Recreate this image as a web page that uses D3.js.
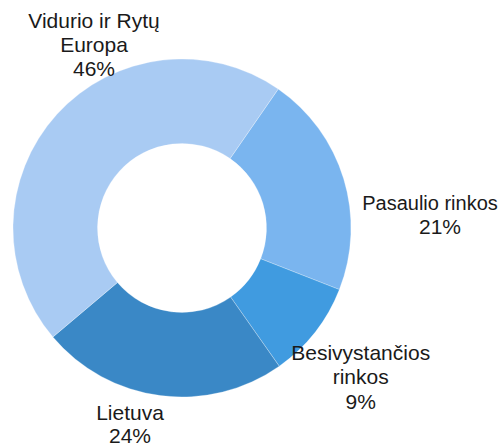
<!DOCTYPE html>
<html>
<head>
<meta charset="utf-8">
<script src="https://cdn.jsdelivr.net/npm/d3@7"></script>
<style>
  html, body { margin: 0; padding: 0; background: #fff; }
  svg { display: block; }
  text { font-family: "Liberation Sans", Arial, sans-serif; fill: #1a1a1a; }
</style>
</head>
<body>
<svg id="chart" width="504" height="447"></svg>
<script>
// Data (clockwise order, starting from the upper-right boundary)
const categories = ["Pasaulio rinkos", "Besivystančios rinkos", "Lietuva", "Vidurio ir Rytų Europa"];
const values = [21.3, 9.3, 23.6, 45.8];
const percentLabels = ["21%", "9%", "24%", "46%"];
const labelLines = [["Pasaulio rinkos"], ["Besivystančios", "rinkos"], ["Lietuva"], ["Vidurio ir Rytų", "Europa"]];
const colors = ["#7ab5ef", "#409be0", "#3a88c6", "#a9cbf3"];

const svg = d3.select("#chart");
const cx = 182, cy = 228, outerR = 169, innerR = 84.5;
const startDeg = 34.7;

const pie = d3.pie()
  .sort(null)
  .value(d => d)
  .startAngle(startDeg * Math.PI / 180)
  .endAngle((startDeg + 360) * Math.PI / 180);

const arc = d3.arc().innerRadius(innerR).outerRadius(outerR);
const g = svg.append("g").attr("transform", `translate(${cx},${cy})`);

const arcs = pie(values);
g.selectAll("path.slice")
  .data(arcs)
  .join("path")
  .attr("class", "slice")
  .attr("d", arc)
  .attr("fill", (d, i) => colors[i])
  .attr("stroke", "#ffffff")
  .attr("stroke-opacity", 0.35)
  .attr("stroke-width", 0.8);

// Label anchor positions: per-line centre x, first baseline y
const labelX = [[430, 440], [360.7, 360.7, 360.7], [130, 130], [94, 94, 94]];
const labelY = [209.5, 360, 419.5, 27.5];
const lineH = 24.4;

const labels = svg.selectAll("text.lbl")
  .data(arcs)
  .join("text")
  .attr("class", "lbl")
  .attr("text-anchor", "middle")
  .attr("font-size", "21px");

labels.each(function(d, i) {
  const t = d3.select(this);
  const lines = labelLines[i].concat([percentLabels[i]]);
  lines.forEach((ln, k) => {
    t.append("tspan")
      .attr("x", labelX[i][k])
      .attr("y", labelY[i] + k * (i === 2 ? 23.4 : lineH))
      .attr("font-size", (i === 0 && k === 0) ? "20px" : null)
      .text(ln);
  });
});
</script>
</body>
</html>
